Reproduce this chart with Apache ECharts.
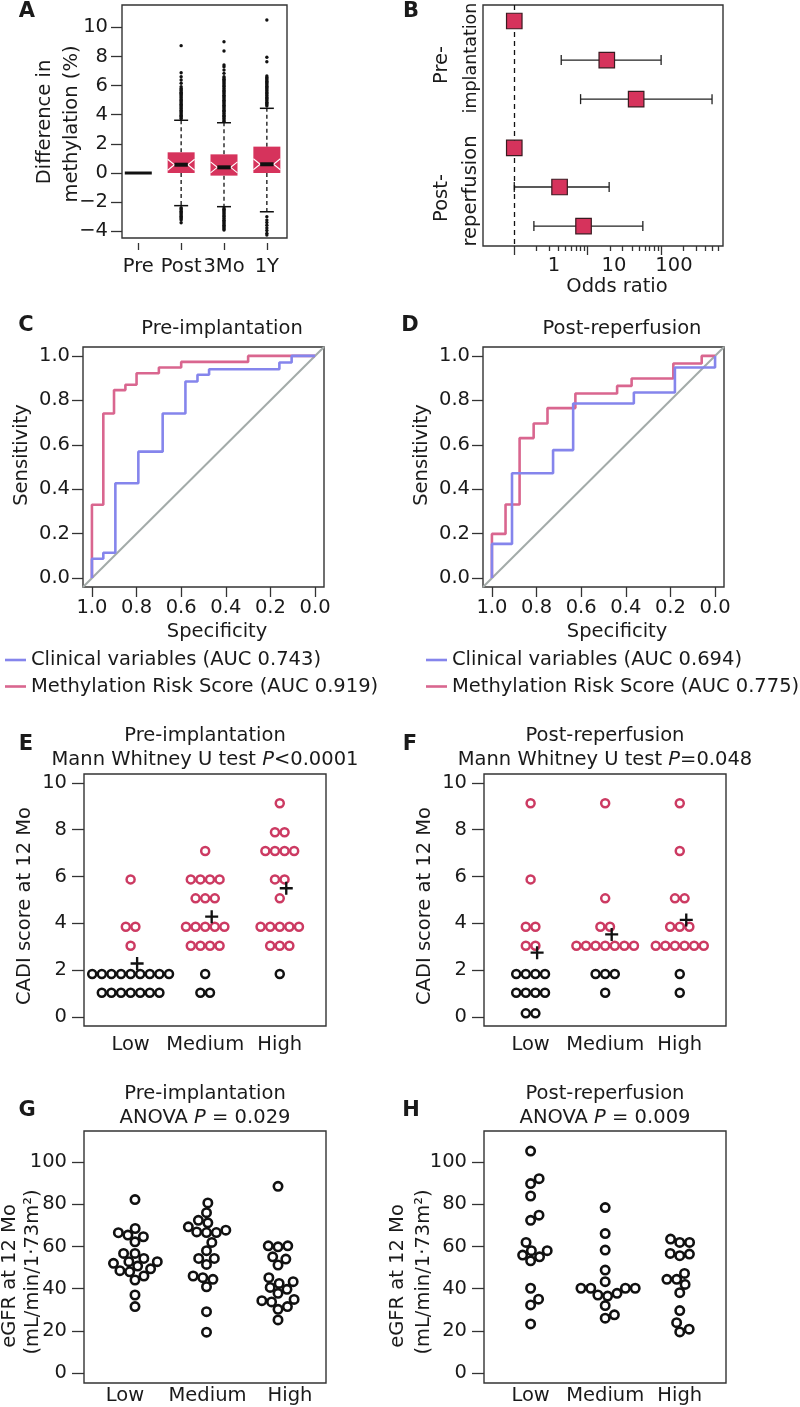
<!DOCTYPE html>
<html><head><meta charset="utf-8">
<script src="https://cdn.jsdelivr.net/npm/echarts@6/dist/echarts.min.js"></script>
<style>html,body{margin:0;padding:0;background:#fff}#c{width:800px;height:1407px}</style>
</head><body><div id="c"></div>
<script>
// ================= DATA =================
// Panel A : box plots of methylation difference
const aCategories = ['Pre', 'Post', '3Mo', '1Y'];
const aLowerWhisker = [0, -2.24, -2.31, -2.66];
const aQ1 = [0, 0, -0.18, 0];
const aMedian = [0, 0.57, 0.39, 0.6];
const aQ3 = [0, 1.42, 1.28, 1.81];
const aUpperWhisker = [0, 3.62, 3.45, 4.44];
const aOutliersPost = [-3.41,-3.22,-3.14,-3.05,-2.97,-2.88,-2.8,-2.71,-2.63,-2.54,-2.46,-2.38,
  3.72,3.8,3.89,3.97,4.05,4.14,4.22,4.3,4.39,4.47,4.55,4.64,4.72,4.8,4.89,4.97,5.05,5.14,5.22,5.3,5.39,5.47,5.55,5.64,5.72,5.8,5.92,6.16,6.38,6.61,6.88,8.74];
const aOutliers3Mo = [-3.91,-3.84,-3.76,-3.67,-3.59,-3.5,-3.42,-3.33,-3.25,-3.16,-3.08,-2.99,-2.91,-2.82,-2.74,-2.65,-2.57,-2.48,-2.4,
  3.55,3.63,3.72,3.8,3.89,3.97,4.06,4.14,4.23,4.31,4.4,4.48,4.57,4.65,4.74,4.82,4.91,4.99,5.08,5.16,5.25,5.33,5.42,5.5,5.59,5.67,5.76,5.84,5.93,6.01,6.1,6.18,6.27,6.35,6.44,6.52,6.61,6.84,7.07,7.3,7.41,8.37,9.01];
const aOutliers1Y = [-4.26,-4.14,-3.95,-3.77,-3.58,-3.4,-3.23,-3.0,
  4.6,4.68,4.77,4.85,4.94,5.02,5.11,5.19,5.28,5.36,5.45,5.53,5.62,5.7,5.79,5.87,5.96,6.04,6.13,6.21,6.3,6.38,6.47,6.55,6.66,7.64,7.94,10.5];
const aYTicks = [-4, -2, 0, 2, 4, 6, 8, 10];

// Panel B : odds ratios (forest plot)
const bOddsRatio = [1, 18.2, 45.7, 1, 4.14, 8.78];
const bCILow = [null, 4.36, 8.0, null, 1.0, 1.85];
const bCIHigh = [null, 100, 494, null, 19.6, 56.4];
const bTickLabels = [1, 10, 100];
const bMinorTicks = [2,3,4,5,6,7,8,9,20,30,40,50,60,70,80,90,200,300,400,500,600];

// Panels C/D : ROC curves (specificity, sensitivity corner points)
const rocCSpecClin = [1, 0.949, 0.895, 0.792, 0.683, 0.581, 0.527, 0.475, 0.16, 0.105, 0.0];
const rocCSensClin = [0, 0.087, 0.114, 0.427, 0.569, 0.741, 0.885, 0.915, 0.94, 0.97, 1.0];
const rocCSpecMeth = [1, 0.949, 0.901, 0.85, 0.80, 0.70, 0.60, 0.30, 0.0];
const rocCSensMeth = [0, 0.33, 0.741, 0.846, 0.87, 0.922, 0.948, 0.973, 1.0];
const rocDSpecClin = [1, 0.91, 0.726, 0.636, 0.364, 0.18, 0.0, 0.0];
const rocDSensClin = [0, 0.154, 0.472, 0.576, 0.786, 0.835, 0.948, 1.0];
const rocDSpecMeth = [1, 0.939, 0.876, 0.813, 0.751, 0.626, 0.439, 0.374, 0.187, 0.06, 0.0];
const rocDSensMeth = [0, 0.199, 0.331, 0.63, 0.696, 0.765, 0.831, 0.865, 0.898, 0.966, 1.0];
const rocTicks = [0, 0.2, 0.4, 0.6, 0.8, 1];
const legendC = ['Clinical variables (AUC 0.743)', 'Methylation Risk Score (AUC 0.919)'];
const legendD = ['Clinical variables (AUC 0.694)', 'Methylation Risk Score (AUC 0.775)'];

// Panels E/F : CADI score at 12 Mo
const groups = ['Low', 'Medium', 'High'];
const eLow = [1.04,1.04,1.04,1.04,1.04,1.04,1.04, 1.84,1.84,1.84,1.84,1.84,1.84,1.84,1.84,1.84, 3.05, 3.86,3.86, 5.88];
const eMedium = [1.04,1.04, 1.84, 3.05,3.05,3.05,3.05, 3.86,3.86,3.86,3.86,3.86, 5.07,5.07,5.07, 5.88,5.88,5.88,5.88, 7.09];
const eHigh = [1.84, 3.05,3.05,3.05, 3.86,3.86,3.86,3.86,3.86, 5.07, 5.88,5.88, 7.09,7.09,7.09,7.09, 7.89,7.89, 9.13];
const eMeans = [2.29, 4.29, 5.5];
const fLow = [0.16,0.16, 1.04,1.04,1.04,1.04, 1.84,1.84,1.84,1.84, 3.05,3.05, 3.86,3.86, 5.88, 9.13];
const fMedium = [1.04, 1.84,1.84,1.84, 3.05,3.05,3.05,3.05,3.05,3.05,3.05, 3.86,3.86, 5.07, 9.13];
const fHigh = [1.04, 1.84, 3.05,3.05,3.05,3.05,3.05,3.05, 3.86,3.86,3.86, 5.07,5.07, 7.09, 9.13];
const fMeans = [2.75, 3.53, 4.15];
const cadiTicks = [0, 2, 4, 6, 8, 10];

// Panels G/H : eGFR at 12 Mo
const gLow = [82.2,68.5,66.5,65.4,64.6,62.2,56.7,56.7,54.3,52.8,52.8,52,50.7,49.4,48.5,48,46,44.1,37,31.5];
const gMedium = [80.6,76,72.4,71.2,69.3,67.7,66.6,66.6,66.9,61.9,58,54.3,54.3,51.5,46,45.2,44.4,40.9,29.1,19.4];
const gHigh = [88.5,60.3,59.8,60.3,55.1,54,51.2,45.2,43.3,42.5,40.6,39.7,37.8,34.3,34.9,33.7,31.5,30.2,25.2];
const hLow = [105.2,92.1,89.8,83.9,74.8,72.4,61.9,58,58,55.9,55.1,53.2,40.2,35,32.3,23.3];
const hMedium = [78.4,66.1,58.3,48.8,43.3,40.2,40.2,40.2,40.2,37.8,37,36.5,32,27.6,26];
const hHigh = [63.5,61.9,61.9,56.7,55.6,56.4,47.2,44.4,44.4,42,38.1,29.6,23.9,19.5,20.8];
const egfrTicks = [0, 20, 40, 60, 80, 100];

// ================= STYLE / LAYOUT =================
const FONT = "'DejaVu Sans', sans-serif";
const FS = 19.5;
const INK = '#1a1a1a';
const CRIMSON = '#d6335c';
const RED = '#cc3a62';
const PINK = '#d9668f';
const BLUE = '#8585ec';
const GRAY = '#a3aba9';

const G = {
  A: { left: 122, top: 5, width: 165, height: 233 },
  B: { left: 483, top: 5, width: 240, height: 241 },
  C: { left: 83, top: 347, width: 241, height: 240 },
  D: { left: 483, top: 347, width: 241, height: 240 },
  E: { left: 84, top: 774, width: 242, height: 252 },
  F: { left: 484, top: 774, width: 242, height: 252 },
  Gp: { left: 84, top: 1131, width: 242, height: 252 },
  H: { left: 484, top: 1131, width: 242, height: 252 }
};
const order = ['A', 'B', 'C', 'D', 'E', 'F', 'Gp', 'H'];
const grids = order.map(k => Object.assign({ show: true, borderColor: '#333', borderWidth: 1.4, backgroundColor: 'transparent', containLabel: false }, G[k]));

const lblStyle = { fontFamily: FONT, fontSize: FS, color: INK };
const tickLine = { color: '#333', width: 1.3 };
function axis(o) {
  const base = {
    type: 'value', position: o.position,
    axisLine: { show: false, onZero: false },
    splitLine: { show: false },
    axisTick: { show: false },
    axisLabel: { show: false }
  };
  return Object.assign(base, o);
}
function ticks(vals, len) { return { show: true, customValues: vals, length: len, lineStyle: tickLine }; }
function labels(vals, margin, fmt) { return Object.assign({ show: true, customValues: vals, margin: margin, formatter: fmt }, lblStyle); }

// axis ranges
const A_X = [0.62, 4.47], A_Y = [-4.46, 11.53];
const B_X = [-0.426, 2.843], B_XL = [-1.183, 2.817], B_Y = [0.59, 6.76];
const ROC = [-0.04, 1.04];
const E_X = [0.375, 3.62], E_Y = [-0.38, 10.38];
const G_X = [0.287, 3.671], G_XL = [0.503, 3.436], G_Y = [-4.7, 114.7];

const xAxis = [
  axis({ gridIndex: 0, position: 'bottom', min: A_X[0], max: A_X[1], offset: 5, axisTick: ticks([1,2,3,4], 7), axisLabel: labels([1,2,3,4], 14, v => aCategories[Math.round(v) - 1]) }),
  axis({ gridIndex: 1, position: 'bottom', min: B_X[0], max: B_X[1], axisTick: ticks(bTickLabels.map(Math.log10), 9) }),
  axis({ gridIndex: 1, position: 'bottom', min: B_X[0], max: B_X[1], axisTick: ticks(bMinorTicks.map(Math.log10), 5) }),
  axis({ gridIndex: 1, position: 'bottom', min: B_XL[0], max: B_XL[1], axisLabel: labels(bTickLabels.map(Math.log10), 10, v => String(Math.round(Math.pow(10, v)))) }),
  axis({ gridIndex: 2, position: 'bottom', min: ROC[0], max: ROC[1], inverse: true, axisTick: ticks(rocTicks, 10), axisLabel: labels(rocTicks, 11, v => v.toFixed(1)) }),
  axis({ gridIndex: 3, position: 'bottom', min: ROC[0], max: ROC[1], inverse: true, axisTick: ticks(rocTicks, 10), axisLabel: labels(rocTicks, 11, v => v.toFixed(1)) }),
  axis({ gridIndex: 4, position: 'bottom', min: E_X[0], max: E_X[1], axisLabel: labels([1,2,3], 9, v => groups[Math.round(v) - 1]) }),
  axis({ gridIndex: 5, position: 'bottom', min: E_X[0], max: E_X[1], axisLabel: labels([1,2,3], 9, v => groups[Math.round(v) - 1]) }),
  axis({ gridIndex: 6, position: 'bottom', min: G_X[0], max: G_X[1] }),
  axis({ gridIndex: 6, position: 'bottom', min: G_XL[0], max: G_XL[1], axisLabel: labels([1,2,3], 3, v => groups[Math.round(v) - 1]) }),
  axis({ gridIndex: 7, position: 'bottom', min: E_X[0], max: E_X[1], axisLabel: labels([1,2,3], 3, v => groups[Math.round(v) - 1]) })
];
const minus = v => (v < 0 ? '\u2212' + Math.abs(v) : String(v));
const yAxis = [
  axis({ gridIndex: 0, position: 'left', min: A_Y[0], max: A_Y[1], axisTick: ticks(aYTicks, 11), axisLabel: labels(aYTicks, 14, minus) }),
  axis({ gridIndex: 1, position: 'left', min: B_Y[0], max: B_Y[1], inverse: true }),
  axis({ gridIndex: 2, position: 'left', min: ROC[0], max: ROC[1], axisTick: ticks(rocTicks, 11), axisLabel: labels(rocTicks, 13, v => v.toFixed(1)) }),
  axis({ gridIndex: 3, position: 'left', min: ROC[0], max: ROC[1], axisTick: ticks(rocTicks, 11), axisLabel: labels(rocTicks, 13, v => v.toFixed(1)) }),
  axis({ gridIndex: 4, position: 'left', min: E_Y[0], max: E_Y[1], axisTick: ticks(cadiTicks, 12), axisLabel: labels(cadiTicks, 17, v => String(v)) }),
  axis({ gridIndex: 5, position: 'left', min: E_Y[0], max: E_Y[1], axisTick: ticks(cadiTicks, 12), axisLabel: labels(cadiTicks, 17, v => String(v)) }),
  axis({ gridIndex: 6, position: 'left', min: G_Y[0], max: G_Y[1], axisTick: ticks(egfrTicks, 12), axisLabel: labels(egfrTicks, 17, v => String(v)) }),
  axis({ gridIndex: 7, position: 'left', min: G_Y[0], max: G_Y[1], axisTick: ticks(egfrTicks, 12), axisLabel: labels(egfrTicks, 17, v => String(v)) })
];

// ================= SERIES BUILDERS =================
const series = [];

// --- A: notched boxes
const boxData = aCategories.map((c, i) => [i + 1, aLowerWhisker[i], aQ1[i], aMedian[i], aQ3[i], aUpperWhisker[i]]);
series.push({
  type: 'custom', xAxisIndex: 0, yAxisIndex: 0, z: 3,
  data: boxData, encode: { x: 0, y: [1, 2, 3, 4, 5] },
  renderItem: function (params, api) {
    const x = api.value(0);
    const c = v => api.coord([x, v]);
    const lw = api.value(1), q1 = api.value(2), med = api.value(3), q3 = api.value(4), uw = api.value(5);
    const cx = c(med)[0], my = c(med)[1], y1 = c(q1)[1], y3 = c(q3)[1];
    const hw = 13.5, ind = 6.8, nh = 5.5, cap = 7;
    const ch = [];
    const dash = { stroke: '#111', lineWidth: 1.3, lineDash: [4, 3] };
    const solid = { stroke: '#111', lineWidth: 1.5 };
    if (uw > q3) {
      const yu = c(uw)[1];
      ch.push({ type: 'line', shape: { x1: cx, y1: y3, x2: cx, y2: yu }, style: dash });
      ch.push({ type: 'line', shape: { x1: cx - cap, y1: yu, x2: cx + cap, y2: yu }, style: solid });
    }
    if (lw < q1) {
      const yl = c(lw)[1];
      ch.push({ type: 'line', shape: { x1: cx, y1: y1, x2: cx, y2: yl }, style: dash });
      ch.push({ type: 'line', shape: { x1: cx - cap, y1: yl, x2: cx + cap, y2: yl }, style: solid });
    }
    let mw = hw;
    if (q3 - q1 > 0.01) {
      mw = hw - ind;
      ch.push({ type: 'rect', shape: { x: cx - hw, y: y3, width: 2 * hw, height: y1 - y3 }, style: { fill: CRIMSON } });
      const ws = { stroke: '#fff', lineWidth: 1.1, fill: null };
      ch.push({ type: 'polyline', shape: { points: [[cx - hw, my - nh], [cx - hw + ind, my], [cx - hw, my + nh]] }, style: ws });
      ch.push({ type: 'polyline', shape: { points: [[cx + hw, my - nh], [cx + hw - ind, my], [cx + hw, my + nh]] }, style: ws });
    }
    ch.push({ type: 'line', shape: { x1: cx - mw, y1: my, x2: cx + mw, y2: my }, style: { stroke: '#111', lineWidth: q3 - q1 > 0.01 ? 4 : 3 } });
    return { type: 'group', children: ch };
  }
});
const outData = [].concat(
  aOutliersPost.map(v => [2, v]), aOutliers3Mo.map(v => [3, v]), aOutliers1Y.map(v => [4, v]));
series.push({ type: 'scatter', xAxisIndex: 0, yAxisIndex: 0, z: 4, data: outData, symbol: 'circle', symbolSize: 3.4, itemStyle: { color: '#111', opacity: 1 }, silent: true });

// --- B: forest plot
const rowPos = i => i + 1 + (i >= 3 ? 0.25 : 0);
const ciData = [];
bOddsRatio.forEach((v, i) => { if (bCILow[i] != null) ciData.push([Math.log10(bCILow[i]), Math.log10(bCIHigh[i]), rowPos(i)]); });
series.push({
  type: 'custom', xAxisIndex: 1, yAxisIndex: 1, z: 3, data: ciData, encode: { x: [0, 1], y: 2 },
  renderItem: function (params, api) {
    const p1 = api.coord([api.value(0), api.value(2)]);
    const p2 = api.coord([api.value(1), api.value(2)]);
    const st = { stroke: '#222', lineWidth: 1.3 };
    return { type: 'group', children: [
      { type: 'line', shape: { x1: p1[0], y1: p1[1], x2: p2[0], y2: p2[1] }, style: st },
      { type: 'line', shape: { x1: p1[0], y1: p1[1] - 5, x2: p1[0], y2: p1[1] + 5 }, style: st },
      { type: 'line', shape: { x1: p2[0], y1: p2[1] - 5, x2: p2[0], y2: p2[1] + 5 }, style: st }
    ] };
  }
});
series.push({
  type: 'scatter', xAxisIndex: 1, yAxisIndex: 1, z: 5,
  data: bOddsRatio.map((v, i) => [Math.log10(v), rowPos(i)]),
  symbol: 'rect', symbolSize: 15.5,
  itemStyle: { color: CRIMSON, borderColor: '#3a1a20', borderWidth: 1.2, opacity: 1 },
  markLine: { silent: true, symbol: ['none', 'none'], label: { show: false }, animation: false,
    lineStyle: { type: [5, 4], color: '#111', width: 1.3, opacity: 1 }, data: [{ xAxis: 0 }] }
});

// --- C/D: ROC
function roc(xi, spec, sens, name, color) {
  return { type: 'line', name: name, xAxisIndex: xi, yAxisIndex: xi - 2, step: 'start', showSymbol: false, symbol: 'none',
    data: spec.map((s, i) => [s, sens[i]]), lineStyle: { color: color, width: 2.6 }, itemStyle: { color: color }, z: 3 };
}
function diag(xi) {
  return { type: 'line', xAxisIndex: xi, yAxisIndex: xi - 2, showSymbol: false, symbol: 'none', silent: true,
    data: [[ROC[1], ROC[0]], [ROC[0], ROC[1]]], lineStyle: { color: GRAY, width: 2 }, z: 2 };
}
series.push(diag(4), roc(4, rocCSpecMeth, rocCSensMeth, legendC[1], PINK), roc(4, rocCSpecClin, rocCSensClin, legendC[0], BLUE));
series.push(diag(5), roc(5, rocDSpecMeth, rocDSensMeth, legendD[1], PINK), roc(5, rocDSpecClin, rocDSensClin, legendD[0], BLUE));

// --- E/F: centred rows of circles
function pxPerUnit(g, ext) { return g / (ext[1] - ext[0]); }
function rowLayout(values, center, pxX, spacing) {
  const counts = {}, seen = {};
  values.forEach(v => { counts[v] = (counts[v] || 0) + 1; });
  return values.map(v => {
    const n = counts[v];
    const k = seen[v] = (seen[v] === undefined ? 0 : seen[v] + 1);
    return [center + (k - (n - 1) / 2) * spacing / pxX, v];
  });
}
const PLUS = 'path://M4.1,0H5.9V10H4.1Z M0,4.1H10V5.9H0Z';
function cadiPanel(xi, yi, sets, means, gw) {
  const pxX = pxPerUnit(gw, E_X);
  const data = [];
  sets.forEach((vals, gi) => rowLayout(vals, gi + 1, pxX, 9.6).forEach(p => {
    data.push({ value: p, itemStyle: { borderColor: p[1] > 2.5 ? RED : '#111' } });
  }));
  series.push({ type: 'scatter', xAxisIndex: xi, yAxisIndex: yi, z: 3, data: data, symbol: 'circle', symbolSize: 8,
    itemStyle: { color: '#fff', borderWidth: 2.5, opacity: 1 }, silent: true });
  series.push({ type: 'scatter', xAxisIndex: xi, yAxisIndex: yi, z: 5, data: means.map((m, i) => [i + 1, m]),
    symbol: PLUS, symbolSize: 13, symbolOffset: [6.5, 0], itemStyle: { color: '#111', opacity: 1 }, silent: true });
}
cadiPanel(6, 4, [eLow, eMedium, eHigh], eMeans, G.E.width);
cadiPanel(7, 5, [fLow, fMedium, fHigh], fMeans, G.F.width);

// --- G/H: beeswarm (swarm, ascending priority)
function swarmOffsets(values, pxY, d) {
  const idx = values.map((v, i) => i).sort((a, b) => values[a] - values[b]);
  const placed = [], off = new Array(values.length);
  idx.forEach(i => {
    const y = values[i] * pxY;
    const near = placed.filter(p => Math.abs(y - p.y) < d);
    let best = 0;
    if (near.length) {
      const cands = [0];
      near.forEach(p => cands.push(p.x + Math.sqrt(d * d - (y - p.y) * (y - p.y))));
      near.forEach(p => cands.push(p.x - Math.sqrt(d * d - (y - p.y) * (y - p.y))));
      let bestAbs = Infinity;
      cands.forEach(cv => {
        const bad = near.some(p => (cv - p.x) * (cv - p.x) + (y - p.y) * (y - p.y) < d * d * 0.999);
        if (!bad && Math.abs(cv) < bestAbs) { bestAbs = Math.abs(cv); best = cv; }
      });
    }
    off[i] = best; placed.push({ y: y, x: best });
  });
  return off;
}
function egfrPanel(xi, yi, sets, gw, gh, xExt) {
  const pxX = pxPerUnit(gw, xExt), pxY = pxPerUnit(gh, G_Y);
  const data = [];
  sets.forEach((vals, gi) => {
    const off = swarmOffsets(vals, pxY, 9.8);
    vals.forEach((v, k) => data.push([gi + 1 + off[k] / pxX, v]));
  });
  series.push({ type: 'scatter', xAxisIndex: xi, yAxisIndex: yi, z: 3, data: data, symbol: 'circle', symbolSize: 8.4,
    itemStyle: { color: '#fff', borderColor: '#111', borderWidth: 2.6, opacity: 1 }, silent: true });
}
egfrPanel(8, 6, [gLow, gMedium, gHigh], G.Gp.width, G.Gp.height, G_X);
egfrPanel(10, 7, [hLow, hMedium, hHigh], G.H.width, G.H.height, E_X);

// ================= TEXT =================
function txt(x, y, text, o) {
  o = o || {};
  const size = o.size || FS;
  const style = { text: text, fill: INK, font: (o.bold ? 'bold ' : '') + size + 'px ' + FONT,
    fontFamily: FONT, fontSize: size, fontWeight: o.bold ? 'bold' : 'normal',
    align: o.align || 'center', verticalAlign: 'middle', textAlign: o.align || 'center', textVerticalAlign: 'middle' };
  if (o.rich) style.rich = o.rich;
  return { type: 'text', x: x, y: y, rotation: o.rot || 0, silent: true, style: style };
}
const R90 = Math.PI / 2;
const rich = {
  n: { fontFamily: FONT, fontSize: FS, color: INK },
  i: { fontFamily: FONT, fontSize: FS, color: INK, fontStyle: 'italic' }
};
const graphics = [
  txt(27, 12, 'A', { bold: true, size: 21 }), txt(411, 12, 'B', { bold: true, size: 21 }),
  txt(26, 326, 'C', { bold: true, size: 21 }), txt(410, 326, 'D', { bold: true, size: 21 }),
  txt(26, 745, 'E', { bold: true, size: 21 }), txt(410, 745, 'F', { bold: true, size: 21 }),
  txt(27, 1111, 'G', { bold: true, size: 21 }), txt(411, 1111, 'H', { bold: true, size: 21 }),
  // A
  txt(45, 122, 'Difference in', { rot: R90 }), txt(72, 124, 'methylation (%)', { rot: R90 }),
  // B
  txt(442, 65, 'Pre-', { rot: R90 }), txt(471, 58, 'implantation', { rot: R90, size: 17.5 }),
  txt(442, 198, 'Post-', { rot: R90 }), txt(471, 191, 'reperfusion', { rot: R90 }),
  txt(617, 287, 'Odds ratio'),
  // C/D
  txt(222, 329, 'Pre-implantation'), txt(622, 329, 'Post-reperfusion'),
  txt(22, 455, 'Sensitivity', { rot: R90 }), txt(422, 455, 'Sensitivity', { rot: R90 }),
  txt(217, 632, 'Specificity'), txt(617, 632, 'Specificity'),
  // E/F
  txt(205, 736, 'Pre-implantation'), txt(205, 760, '{n|Mann Whitney U test }{i|P}{n|<0.0001}', { rich: rich }),
  txt(605, 736, 'Post-reperfusion'), txt(605, 760, '{n|Mann Whitney U test }{i|P}{n|=0.048}', { rich: rich }),
  txt(25, 906, 'CADI score at 12 Mo', { rot: R90 }), txt(425, 906, 'CADI score at 12 Mo', { rot: R90 }),
  // G/H
  txt(205, 1094, 'Pre-implantation'), txt(205, 1118, '{n|ANOVA }{i|P}{n| = 0.029}', { rich: rich }),
  txt(605, 1094, 'Post-reperfusion'), txt(605, 1118, '{n|ANOVA }{i|P}{n| = 0.009}', { rich: rich }),
  txt(10, 1276, 'eGFR at 12 Mo', { rot: R90 }), txt(33, 1272, '(mL/min/1\u00b773m\u00b2)', { rot: R90 }),
  txt(398, 1276, 'eGFR at 12 Mo', { rot: R90 }), txt(424, 1272, '(mL/min/1\u00b773m\u00b2)', { rot: R90 })
];

function legend(left, names) {
  return { show: true, orient: 'vertical', left: left, top: 650, padding: 0, itemWidth: 21, itemHeight: 2.6, itemGap: 6.5,
    icon: 'rect', selectedMode: false, data: names, textStyle: { fontFamily: FONT, fontSize: FS, color: INK } };
}

const chart = echarts.init(document.getElementById('c'), null, { renderer: 'canvas' });
chart.setOption({
  animation: false,
  backgroundColor: '#fff',
  textStyle: { fontFamily: FONT },
  grid: grids,
  xAxis: xAxis,
  yAxis: yAxis,
  legend: [legend(5, legendC), legend(426, legendD)],
  graphic: { elements: graphics },
  series: series
});
</script>
</body></html>
